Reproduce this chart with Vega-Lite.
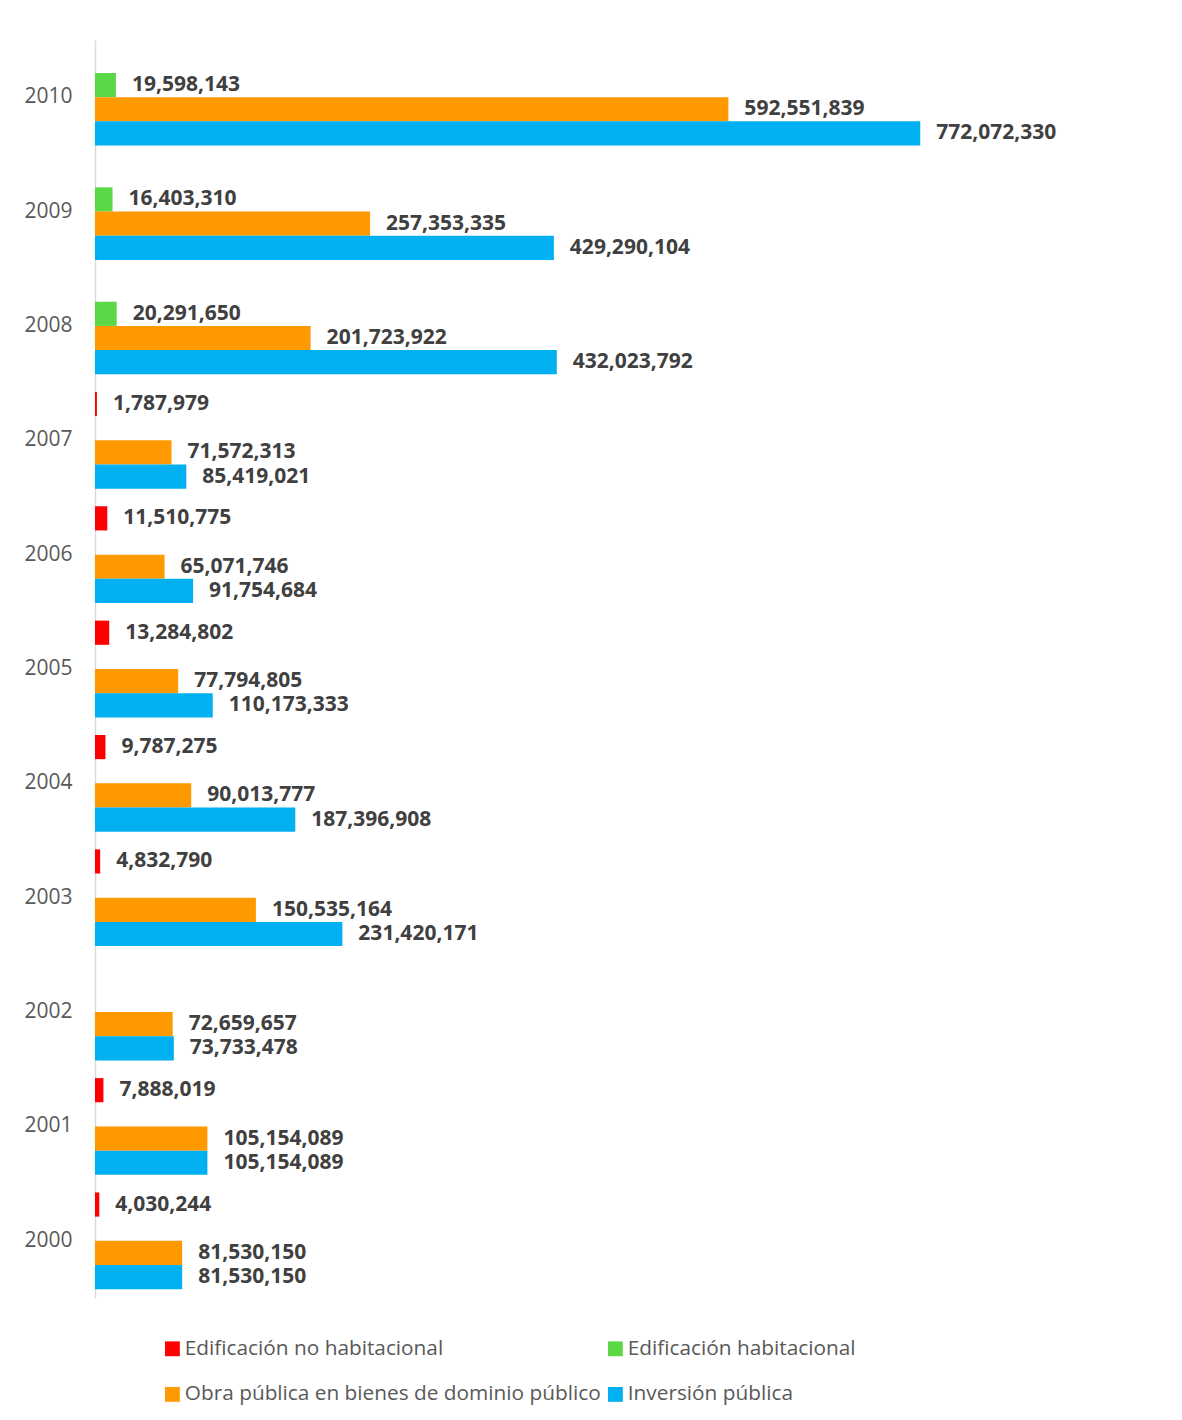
{
  "$schema": "https://vega.github.io/schema/vega-lite/v6.json",
  "width": 962,
  "height": 1258,
  "autosize": {"type": "none"},
  "padding": {"left": 95, "top": 40, "right": 125, "bottom": 122},
  "background": "white",
  "config": {"view": {"stroke": null}, "font": "Open Sans"},
  "data": {"values": [
    {"year": 2010, "series": "Edificación habitacional", "value": 19598143},
    {"year": 2010, "series": "Obra pública en bienes de dominio público", "value": 592551839},
    {"year": 2010, "series": "Inversión pública", "value": 772072330},
    {"year": 2009, "series": "Edificación habitacional", "value": 16403310},
    {"year": 2009, "series": "Obra pública en bienes de dominio público", "value": 257353335},
    {"year": 2009, "series": "Inversión pública", "value": 429290104},
    {"year": 2008, "series": "Edificación habitacional", "value": 20291650},
    {"year": 2008, "series": "Obra pública en bienes de dominio público", "value": 201723922},
    {"year": 2008, "series": "Inversión pública", "value": 432023792},
    {"year": 2007, "series": "Edificación no habitacional", "value": 1787979},
    {"year": 2007, "series": "Obra pública en bienes de dominio público", "value": 71572313},
    {"year": 2007, "series": "Inversión pública", "value": 85419021},
    {"year": 2006, "series": "Edificación no habitacional", "value": 11510775},
    {"year": 2006, "series": "Obra pública en bienes de dominio público", "value": 65071746},
    {"year": 2006, "series": "Inversión pública", "value": 91754684},
    {"year": 2005, "series": "Edificación no habitacional", "value": 13284802},
    {"year": 2005, "series": "Obra pública en bienes de dominio público", "value": 77794805},
    {"year": 2005, "series": "Inversión pública", "value": 110173333},
    {"year": 2004, "series": "Edificación no habitacional", "value": 9787275},
    {"year": 2004, "series": "Obra pública en bienes de dominio público", "value": 90013777},
    {"year": 2004, "series": "Inversión pública", "value": 187396908},
    {"year": 2003, "series": "Edificación no habitacional", "value": 4832790},
    {"year": 2003, "series": "Obra pública en bienes de dominio público", "value": 150535164},
    {"year": 2003, "series": "Inversión pública", "value": 231420171},
    {"year": 2002, "series": "Obra pública en bienes de dominio público", "value": 72659657},
    {"year": 2002, "series": "Inversión pública", "value": 73733478},
    {"year": 2001, "series": "Edificación no habitacional", "value": 7888019},
    {"year": 2001, "series": "Obra pública en bienes de dominio público", "value": 105154089},
    {"year": 2001, "series": "Inversión pública", "value": 105154089},
    {"year": 2000, "series": "Edificación no habitacional", "value": 4030244},
    {"year": 2000, "series": "Obra pública en bienes de dominio público", "value": 81530150},
    {"year": 2000, "series": "Inversión pública", "value": 81530150}
  ]},
  "encoding": {
    "y": {
      "field": "year", "type": "ordinal", "sort": "descending",
      "scale": {"paddingInner": 0.154, "paddingOuter": 0.077},
      "axis": {"title": null, "ticks": false, "domain": true, "domainColor": "#d9d9d9", "domainWidth": 1.5, "labelPadding": 23, "labelFontSize": 21, "labelColor": "#595959", "grid": false}
    },
    "yOffset": {
      "field": "series", "type": "nominal",
      "scale": {"domain": ["Edificación no habitacional", "Edificación habitacional", "Obra pública en bienes de dominio público", "Inversión pública"]}
    },
    "x": {"field": "value", "type": "quantitative", "scale": {"domain": [0, 900000000], "nice": false}, "axis": null}
  },
  "layer": [
    {
      "mark": {"type": "bar"},
      "encoding": {
        "color": {
          "field": "series", "type": "nominal",
          "scale": {
            "domain": ["Edificación no habitacional", "Edificación habitacional", "Obra pública en bienes de dominio público", "Inversión pública"],
            "range": ["#ff0000", "#5cd846", "#ff9900", "#00b0f0"]
          },
          "legend": {
            "orient": "none", "legendX": 67, "legendY": 1298, "direction": "horizontal", "columns": 2,
            "title": null, "symbolType": "square", "symbolSize": 220, "symbolStrokeWidth": 0, "symbolOpacity": 1,
            "labelFontSize": 20.8, "labelColor": "#595959", "labelOffset": 2, "labelLimit": 600,
            "rowPadding": 24, "columnPadding": 4
          }
        }
      }
    },
    {
      "mark": {"type": "text", "align": "left", "baseline": "middle", "dx": 16, "fontWeight": "bold", "fontSize": 21, "color": "#404040"},
      "encoding": {"text": {"field": "value", "type": "quantitative", "format": ",d"}}
    }
  ]
}
